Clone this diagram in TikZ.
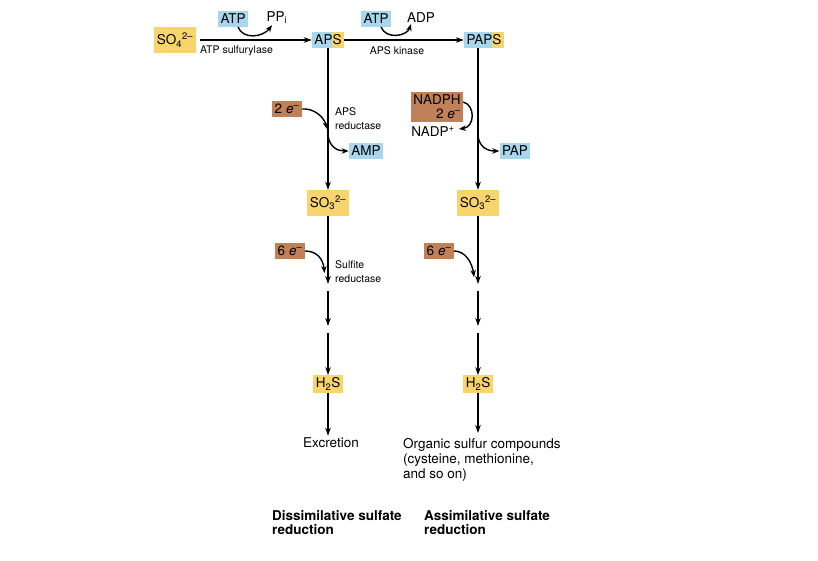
\documentclass[tikz,border=0pt]{standalone}
\usepackage{fontspec}
\setmainfont{TeX Gyre Heros}
\usetikzlibrary{arrows.meta,calc}
\definecolor{yel}{RGB}{248,212,108}
\definecolor{blu}{RGB}{168,214,236}
\definecolor{brn}{RGB}{192,128,88}
\begin{document}
\begin{tikzpicture}[x=1pt,y=-1pt,
  every node/.style={inner sep=0pt, font=\fontsize{13.5}{15}\selectfont},
  box/.style={inner xsep=2.5pt, inner ysep=2.5pt, minimum height=15.5pt},
  ybox/.style={box, fill=yel},
  bbox/.style={box, fill=blu},
  rbox/.style={box, fill=brn},
  tall/.style={minimum height=26pt},
  small/.style={font=\fontsize{10.5}{14}\selectfont},
  bold/.style={font=\bfseries\fontsize{13.5}{14.5}\selectfont},
  splitS/.style={path picture={\fill[yel] ($(path picture bounding box.north east)+(-#1,0)$) rectangle (path picture bounding box.south east);}},
  arr/.style={line width=1.4pt, -{Stealth[length=8pt,width=5.5pt]}},
  curv/.style={line width=1.4pt, -{Stealth[length=7pt,width=5.5pt]}},
]
\fill[white] (0,0) rectangle (818,561);
\useasboundingbox (0,0) rectangle (818,561);

% top row
\node[ybox, tall] (so4) at (175,40) {SO\textsubscript{4}\textsuperscript{2–}};
\node[bbox] (atp1) at (233,19) {ATP};
\node (ppi) at (277,18) {PP\textsubscript{i}};
\node[bbox, splitS=12] (aps) at (328,40) {APS};
\node[bbox] (atp2) at (376,19) {ATP};
\node (adp) at (421,18) {ADP};
\node[bbox, splitS=11.5] (paps) at (484,40) {PAPS};
\node[small, anchor=west] (sulf) at (200,51) {ATP sulfurylase};
\node[small] (kin) at (397,51) {APS kinase};

% APS reduction
\node[rbox] (e2) at (287,109) {2 \textit{e}\textsuperscript{–}};
\node[small, anchor=north west, align=left] (apsr) at (335,107) {APS\\reductase};
\node[bbox] (amp) at (366,151) {AMP};
\node[rbox, align=right, font=\fontsize{13.5}{14}\selectfont] (nadph) at (437,107) {NADPH\\2 \textit{e}\textsuperscript{–}};
\node (nadpp) at (433,132) {NADP\textsuperscript{+}};
\node[bbox] (pap) at (515,151) {PAP};

% sulfite
\node[ybox, tall] (so3l) at (328,203) {SO\textsubscript{3}\textsuperscript{2–}};
\node[ybox, tall] (so3r) at (478,203) {SO\textsubscript{3}\textsuperscript{2–}};
\node[rbox] (e6l) at (290,251) {6 \textit{e}\textsuperscript{–}};
\node[rbox] (e6r) at (439,251) {6 \textit{e}\textsuperscript{–}};
\node[small, anchor=north west, align=left] (sr) at (335,260) {Sulfite\\reductase};

% sulfide
\node[ybox] (h2sl) at (328,384) {H\textsubscript{2}S};
\node[ybox] (h2sr) at (478,384) {H\textsubscript{2}S};
\node (exc) at (331,443) {Excretion};
\node[anchor=north west, align=left] (org) at (403,438) {Organic sulfur compounds\\(cysteine, methionine,\\and so on)};
\node[bold, anchor=north west, align=left] (dis) at (272,510) {Dissimilative sulfate\\reduction};
\node[bold, anchor=north west, align=left] (ass) at (424,510) {Assimilative sulfate\\reduction};

% coordinates on the columns
\coordinate (j1) at (327,129);
\coordinate (j2) at (328,136);
\coordinate (j3) at (478,136);
\coordinate (la) at (328,284);
\coordinate (lb) at (328,291);
\coordinate (lc) at (328,326);
\coordinate (ld) at (328,333);
\coordinate (ra) at (478,284);
\coordinate (rb) at (478,291);
\coordinate (rc) at (478,326);
\coordinate (rd) at (478,333);
\coordinate (t1) at (324.5,273);
\coordinate (t2) at (474,277);

% horizontal arrows
\draw[arr, shorten <=4pt] (so4.east) -- (aps.west);
\draw[arr] (aps.east) -- (paps.west);
\draw[curv] ($(atp1.south)+(5,0)$) .. controls ($(atp1.south)+(10,13)$) and ($(ppi.south)+(-14,13)$) .. ($(ppi.south)+(-5,1)$);
\draw[curv] ($(atp2.south)+(5,0)$) .. controls ($(atp2.south)+(10,13)$) and ($(adp.south)+(-14,13)$) .. ($(adp.south)+(-10,1)$);

% left column
\draw[arr] (aps.south) -- (so3l.north);
\draw[curv] (e2.east) .. controls (314,108) and (324,117) .. (j1);
\draw[curv] (j2) .. controls (330,147) and (337,151) .. (amp.west);
\draw[arr] (so3l.south) -- (la);
\draw[curv] (e6l.east) .. controls (316,251) and (323,258) .. (t1);
\draw[arr] (lb) -- (lc);
\draw[arr] (ld) -- (h2sl.north);
\draw[arr, shorten >=2pt] (h2sl.south) -- (h2sl.south |- exc.north);

% right column
\draw[arr] (paps.south -| so3r.north) -- (so3r.north);
\draw[curv] ($(nadph.east)+(0,-5)$) .. controls ($(nadph.east)+(12,-2)$) and ($(nadph.east)+(12,20)$) .. ($(nadpp.east)+(4,-3)$);
\draw[curv] (j3) .. controls (479.5,147) and (487,151) .. (pap.west);
\draw[arr] (so3r.south) -- (ra);
\draw[curv] (e6r.east) .. controls (465,251) and (472,262) .. (t2);
\draw[arr] (rb) -- (rc);
\draw[arr] (rd) -- (h2sr.north);
\draw[arr, shorten >=5pt] (h2sr.south) -- (h2sr.south |- org.north);
\end{tikzpicture}
\end{document}
